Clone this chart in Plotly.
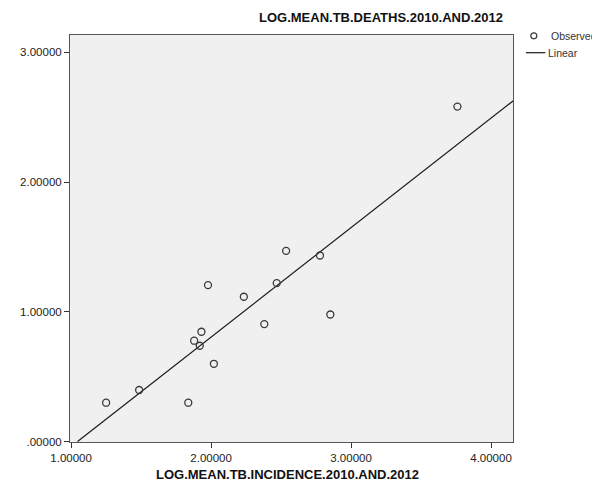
import plotly.graph_objects as go

incidence = [1.250, 1.486, 1.837, 1.879, 1.919, 1.931, 1.978, 2.020,
             2.234, 2.380, 2.469, 2.536, 2.778, 2.852, 3.760]
deaths = [0.299, 0.397, 0.299, 0.777, 0.738, 0.846, 1.206, 0.599,
          1.116, 0.905, 1.221, 1.470, 1.434, 0.979, 2.582]

# Linear fit line endpoints
fit_x = [1.046, 4.16]
fit_y = [0.0, 2.628]

x_tickvals = [1, 2, 3, 4]
x_ticktext = ["1.00000", "2.00000", "3.00000", "4.00000"]
y_tickvals = [0, 1, 2, 3]
y_ticktext = [".00000", "1.00000", "2.00000", "3.00000"]

FONT = "Liberation Sans, Arial, sans-serif"

fig = go.Figure()
fig.add_trace(go.Scatter(
    x=fit_x, y=fit_y, mode="lines", name="Linear",
    line=dict(color="#1a1a1a", width=1.2), showlegend=False, hoverinfo="skip"))
fig.add_trace(go.Scatter(
    x=incidence, y=deaths, mode="markers", name="Observed",
    marker=dict(symbol="circle-open", size=7, color="#3a3a3a",
                line=dict(width=1.3, color="#3a3a3a")),
    showlegend=False, cliponaxis=False))

# page body has an 8px margin, so the figure is 8px smaller and shifted
fig.update_layout(
    width=592, height=479,
    margin=dict(l=54, r=87, t=27, b=45),
    paper_bgcolor="white", plot_bgcolor="#f0f0f0",
    font=dict(family=FONT, size=11.5, color="#222"),
    xaxis=dict(range=[0.992, 4.157], tickvals=x_tickvals, ticktext=x_ticktext,
               showgrid=False, zeroline=False, ticks="outside", ticklen=5,
               tickcolor="#333", showline=True, linecolor="#555", linewidth=1,
               mirror=True, tickfont=dict(size=11.5, color="#222")),
    yaxis=dict(range=[-0.004, 3.134], tickvals=y_tickvals, ticktext=y_ticktext,
               showgrid=False, zeroline=False, ticks="outside", ticklen=5,
               tickcolor="#333", showline=True, linecolor="#555", linewidth=1,
               mirror=True, tickfont=dict(size=11.5, color="#222")),
    annotations=[
        dict(text="<b>LOG.MEAN.TB.DEATHS.2010.AND.2012</b>", xref="paper", yref="paper",
             x=0.982, y=1.042, xanchor="right", yanchor="middle", showarrow=False,
             font=dict(size=13, color="#111")),
        dict(text="<b>LOG.MEAN.TB.INCIDENCE.2010.AND.2012</b>", xref="paper", yref="paper",
             x=0.492, y=-0.081, xanchor="center", yanchor="middle", showarrow=False,
             font=dict(size=13, color="#111")),
        dict(text="Observed", xref="paper", yref="paper", x=1.081, y=0.998,
             xanchor="left", yanchor="middle", showarrow=False,
             font=dict(size=10.5, color="#333")),
        dict(text="Linear", xref="paper", yref="paper", x=1.074, y=0.9565,
             xanchor="left", yanchor="middle", showarrow=False,
             font=dict(size=10.5, color="#333")),
    ],
    shapes=[
        dict(type="circle", xref="paper", yref="paper", xsizemode="pixel",
             ysizemode="pixel", xanchor=1.047, yanchor=0.998,
             x0=-3, x1=3, y0=-3, y1=3, line=dict(color="#3a3a3a", width=1.2)),
        dict(type="line", xref="paper", yref="paper", x0=1.029, x1=1.073,
             y0=0.9565, y1=0.9565, line=dict(color="#1a1a1a", width=1.2)),
    ],
)

fig.write_html("out.html")
